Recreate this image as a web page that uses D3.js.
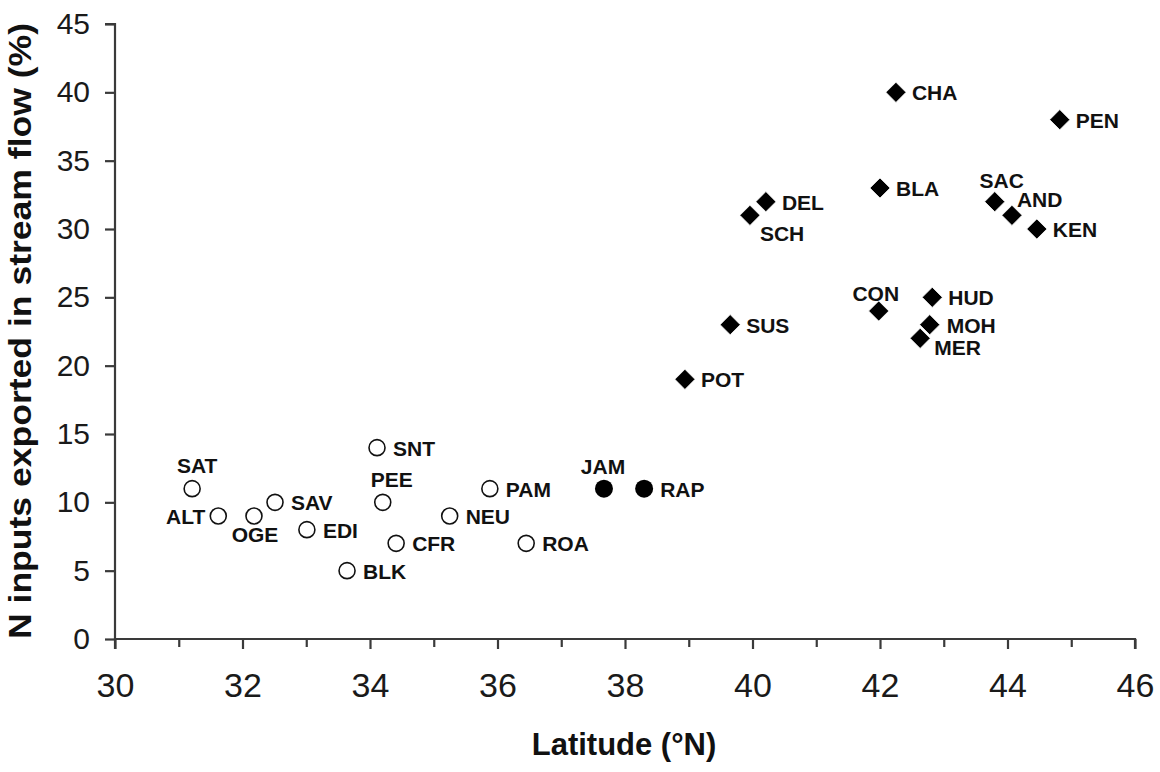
<!DOCTYPE html>
<html>
<head>
<meta charset="utf-8">
<script src="https://cdn.jsdelivr.net/npm/d3@7"></script>
<style>
  html, body { margin: 0; padding: 0; background: #fff; }
  svg { display: block; font-family: "Liberation Sans", Arial, sans-serif; }
</style>
</head>
<body>
<svg id="chart" width="1160" height="772"></svg>
<script>
// ---- Data ----
const southSites = ["SAT","ALT","OGE","SAV","EDI","BLK","SNT","PEE","CFR","NEU","PAM","ROA"];
const southLat   = [31.21, 31.62, 32.18, 32.51, 33.01, 33.64, 34.11, 34.20, 34.41, 35.25, 35.88, 36.45];
const southPct   = [11, 9, 9, 10, 8, 5, 14, 10, 7, 9, 11, 7];

const midSites = ["JAM","RAP"];
const midLat   = [37.67, 38.30];
const midPct   = [11, 11];

const northSites = ["POT","SUS","SCH","DEL","CHA","PEN","BLA","SAC","AND","KEN","CON","HUD","MOH","MER"];
const northLat   = [38.94, 39.65, 39.96, 40.21, 42.25, 44.82, 42.00, 43.80, 44.07, 44.46, 41.98, 42.82, 42.78, 42.63];
const northPct   = [19, 23, 31, 32, 40, 38, 33, 32, 31, 30, 24, 25, 23, 22];

const xTicks = [30, 32, 34, 36, 38, 40, 42, 44, 46];
const xMinorTicks = [31, 33, 35, 37, 39, 41, 43, 45];
const yTicks = [0, 5, 10, 15, 20, 25, 30, 35, 40, 45];

const xTitle = "Latitude (°N)";
const yTitle = "N inputs exported in stream flow (%)";

// ---- Label placement (style) ----
const placement = {
  SAT: {anchor: "middle", dx: 5,  dy: -16},
  ALT: {anchor: "end",    dx: -13, dy: 8},
  OGE: {anchor: "middle", dx: 1,  dy: 26},
  PEE: {anchor: "middle", dx: 9,  dy: -15},
  JAM: {anchor: "middle", dx: -1, dy: -15},
  SCH: {anchor: "start",  dx: 10, dy: 26},
  SAC: {anchor: "middle", dx: 7,  dy: -14},
  AND: {anchor: "start",  dx: 5,  dy: -8},
  CON: {anchor: "middle", dx: -3, dy: -10},
  MER: {anchor: "start",  dx: 14, dy: 17},
  MOH: {anchor: "start",  dx: 17, dy: 8}
};
const defaultPlacement = {anchor: "start", dx: 16, dy: 8};

// ---- Layout ----
const svg = d3.select("#chart");
const x = d3.scaleLinear().domain([30, 46]).range([115, 1135]);
const y = d3.scaleLinear().domain([0, 45]).range([639, 24]);
const axisColor = "#3a3a3a";

// Y axis
const yAxis = d3.axisLeft(y).tickValues(yTicks).tickSize(10).tickPadding(15).tickFormat(d3.format("d"));
const gy = svg.append("g").attr("transform", `translate(${x(30)},0)`).call(yAxis);
gy.select(".domain").attr("stroke", axisColor).attr("stroke-width", 2.2)
  .attr("d", `M-10,${y(45)}H0V${y(0)}`);
gy.selectAll(".tick line").attr("stroke", axisColor).attr("stroke-width", 2.2);
gy.selectAll(".tick text").attr("font-size", 30).attr("fill", "#1a1a1a")
  .attr("font-family", "'Liberation Sans', Arial, sans-serif");

// X axis
const xAxis = d3.axisBottom(x).tickValues(xTicks).tickSize(10).tickPadding(24).tickFormat(d3.format("d"));
const gx = svg.append("g").attr("transform", `translate(0,${y(0)})`).call(xAxis);
gx.select(".domain").attr("stroke", axisColor).attr("stroke-width", 2.2)
  .attr("d", `M${x(30)},10V0H${x(46)}V10`);
gx.selectAll(".tick line").attr("stroke", axisColor).attr("stroke-width", 2.2);
gx.selectAll(".tick text").attr("font-size", 34).attr("fill", "#1a1a1a")
  .attr("font-family", "'Liberation Sans', Arial, sans-serif");
const xMinor = d3.axisBottom(x).tickValues(xMinorTicks).tickSize(8).tickFormat("");
const gxm = svg.append("g").attr("transform", `translate(0,${y(0)})`).call(xMinor);
gxm.select(".domain").remove();
gxm.selectAll(".tick line").attr("stroke", axisColor).attr("stroke-width", 2.2);

// Axis titles
svg.append("text").attr("x", 624).attr("y", 755).attr("text-anchor", "middle")
  .attr("font-size", 31).attr("font-weight", "bold").attr("fill", "#111").text(xTitle);
svg.append("text").attr("transform", `translate(31,331) rotate(-90)`).attr("text-anchor", "middle")
  .attr("font-size", 31).attr("font-weight", "bold").attr("fill", "#111")
  .attr("textLength", 616).attr("lengthAdjust", "spacingAndGlyphs").text(yTitle);

// Build point tables
const south = southSites.map((s, i) => ({site: s, lat: southLat[i], pct: southPct[i]}));
const mid = midSites.map((s, i) => ({site: s, lat: midLat[i], pct: midPct[i]}));
const north = northSites.map((s, i) => ({site: s, lat: northLat[i], pct: northPct[i]}));

const marks = svg.append("g");
marks.selectAll("circle.open").data(south).join("circle")
  .attr("class", "open").attr("cx", d => x(d.lat)).attr("cy", d => y(d.pct)).attr("r", 8)
  .attr("fill", "#fff").attr("stroke", "#111").attr("stroke-width", 1.6);
marks.selectAll("circle.filled").data(mid).join("circle")
  .attr("class", "filled").attr("cx", d => x(d.lat)).attr("cy", d => y(d.pct)).attr("r", 9)
  .attr("fill", "#000");
const diamond = d3.symbol().type(d3.symbolDiamond2).size(260);
marks.selectAll("path.dia").data(north).join("path")
  .attr("class", "dia").attr("transform", d => `translate(${x(d.lat)},${y(d.pct)})`)
  .attr("d", diamond).attr("fill", "#000").attr("stroke", "#fff").attr("stroke-width", 0.8);

// Labels
const all = south.concat(mid, north);
svg.append("g").selectAll("text").data(all).join("text")
  .attr("x", d => x(d.lat) + (placement[d.site] || defaultPlacement).dx)
  .attr("y", d => y(d.pct) + (placement[d.site] || defaultPlacement).dy)
  .attr("text-anchor", d => (placement[d.site] || defaultPlacement).anchor)
  .attr("font-size", 21).attr("font-weight", "bold").attr("fill", "#111")
  .text(d => d.site);
</script>
</body>
</html>
